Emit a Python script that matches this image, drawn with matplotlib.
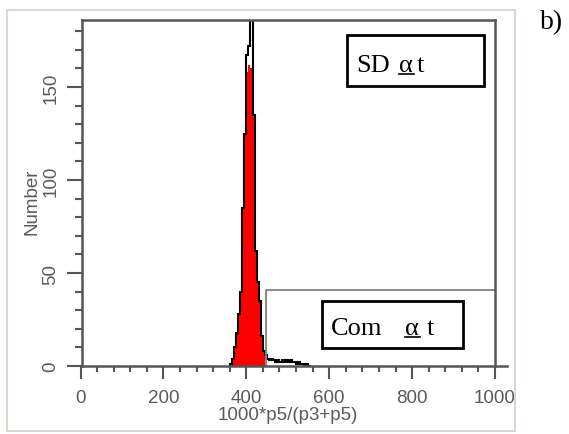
import numpy as np
import matplotlib.pyplot as plt
from matplotlib.patches import Rectangle
from matplotlib.lines import Line2D

# histogram of 1000*p5/(p3+p5), bin width 5
bin_edges = np.arange(360, 560, 5)
counts = [1, 4, 10, 18, 28, 40, 85, 125, 167, 172, 190, 135, 62, 45, 35, 16, 8,
          6, 4, 3, 4, 3, 2, 3, 2, 3, 2, 3, 2, 3, 2, 2, 1, 2, 1, 1, 0, 1, 0]

# red (gated) part of the histogram
fill_edges = np.arange(365, 450, 5)
fill_counts = [4, 10, 18, 28, 40, 85, 125, 158, 162, 160, 135, 62, 45, 35, 16, 8]

# "Com" gate marker
com_gate_x = [447, 1000]
com_gate_y = 41

xticks = [0, 200, 400, 600, 800, 1000]
yticks = [0, 50, 100, 150]
x_minor = np.arange(0, 1001, 40)
y_minor = np.arange(0, 181, 10)

W, H = 569, 435

def fig_xy(px, py):
    return px / W, 1 - py / H

fig = plt.figure(figsize=(W / 100, H / 100), dpi=100)
fig.patch.set_facecolor('white')

# light panel border
fig.add_artist(Rectangle(fig_xy(7, 432), (515 - 7) / W, (432 - 11) / H,
                         transform=fig.transFigure, fill=False,
                         ec='#d8d8d0', lw=1.5))

ax = fig.add_axes([0.11234, 0.12211, 0.78675, 0.82952])
ax.set_xlim(-40, 1040)
ax.set_ylim(-8, 186)

ax.stairs(fill_counts, fill_edges, fill=True, color='#ff0000', lw=0)
ax.stairs(counts, bin_edges, color='black', lw=1.5)

ax.plot([com_gate_x[0], com_gate_x[0], com_gate_x[1]], [0, com_gate_y, com_gate_y],
        color='#808080', lw=1.3)

frame_col = '#555555'
for s in ['left', 'right', 'top', 'bottom']:
    ax.spines[s].set_color(frame_col)
    ax.spines[s].set_linewidth(1.8)
ax.spines['bottom'].set_position(('data', 0))
ax.spines['bottom'].set_bounds(0, 1028)
ax.spines['left'].set_position(('data', 4))
ax.spines['left'].set_bounds(0, 186)
ax.spines['right'].set_position(('data', 1000))
ax.spines['right'].set_bounds(0, 186)
ax.spines['top'].set_bounds(4, 1000)

ax.set_xticks(xticks)
ax.set_xticks(x_minor, minor=True)
ax.set_yticks(yticks)
ax.set_yticks(y_minor, minor=True)
ax.set_xticklabels([str(v) for v in xticks])
ax.set_yticklabels([str(v) for v in yticks], rotation=90, va='center')

lab_col = '#5a5a5a'
lab_font = dict(family='Liberation Sans', size=13.5, color=lab_col)
ax.tick_params(axis='x', which='major', length=9.5, width=1.5, color=frame_col, pad=7,
               labelsize=13.5, labelcolor=lab_col)
ax.tick_params(axis='x', which='minor', length=4.5, width=1.5, color=frame_col)
ax.tick_params(axis='y', which='major', length=10.5, width=1.5, color=frame_col, pad=6,
               labelsize=13.5, labelcolor=lab_col)
ax.tick_params(axis='y', which='minor', length=5, width=1.5, color=frame_col)
ax.tick_params(right=False, top=False, which='both')
for t in ax.get_xticklabels() + ax.get_yticklabels():
    t.set_family('Liberation Sans')

ax.set_xlabel('1000*p5/(p3+p5)', fontdict=lab_font, labelpad=0)
ax.set_ylabel('Number', fontdict=lab_font, labelpad=1)

# annotation boxes
serif = dict(family='Liberation Serif', size=19, color='black')
for (x0, y0, x1, y1) in [(347, 36, 484, 87), (322, 302, 463, 349)]:
    fig.add_artist(Rectangle(fig_xy(x0, y1), (x1 - x0) / W, (y1 - y0) / H,
                             transform=fig.transFigure, fill=False, ec='black', lw=2))

for word, wx, ax_x, tx, base in [('SD', 356, 399, 417, 71.5), ('Com', 331, 405, 427, 335)]:
    fig.text(*fig_xy(wx, base), word, ha='left', va='baseline', **serif)
    fig.text(*fig_xy(ax_x, base), '\u03b1', ha='left', va='baseline', **serif)
    fig.text(*fig_xy(tx, base), 't', ha='left', va='baseline', **serif)
    ux0, uy = fig_xy(ax_x, base + 3)
    ux1, _ = fig_xy(ax_x + 15, base + 3)
    fig.add_artist(Line2D([ux0, ux1], [uy, uy], transform=fig.transFigure,
                          color='black', lw=1.2))

fig.text(*fig_xy(540, 29), 'b)', ha='left', va='baseline',
         family='Liberation Serif', size=20, color='black')

fig.savefig('out.png', dpi=100)
